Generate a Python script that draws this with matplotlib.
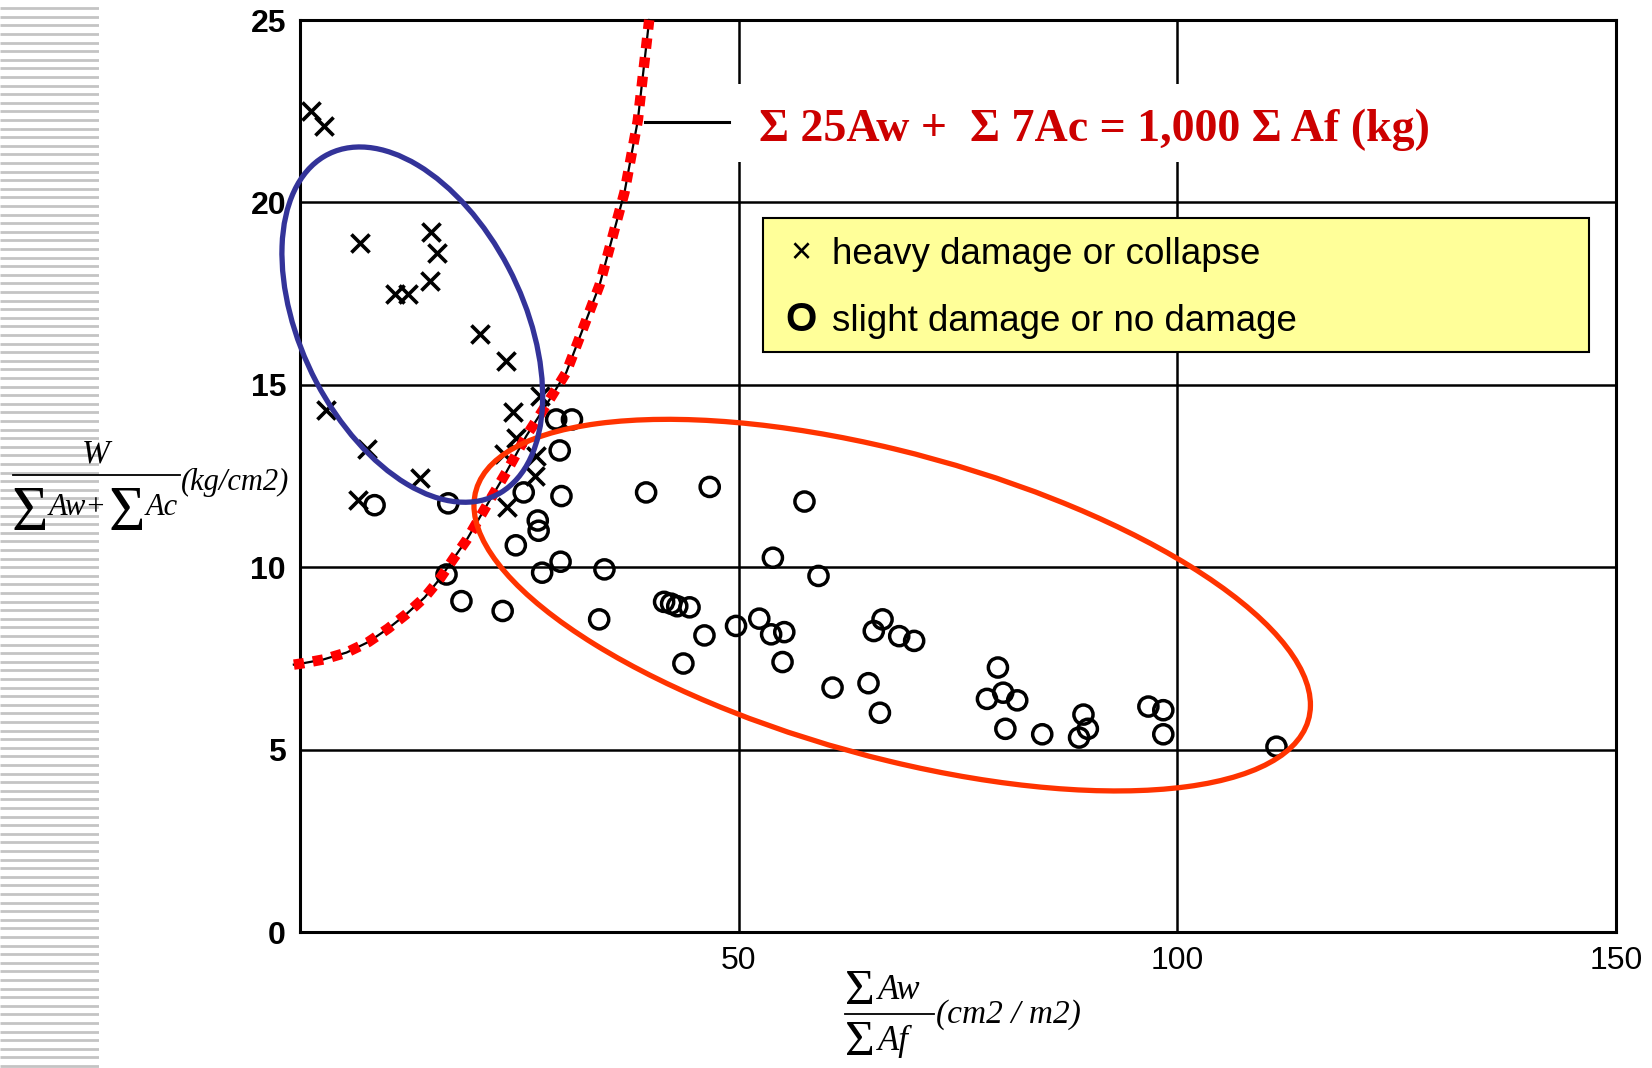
import matplotlib.pyplot as plt
from matplotlib.patches import Ellipse, Rectangle
from matplotlib.lines import Line2D
import numpy as np

# heavy damage or collapse (x markers)
heavy_x = [1.3, 2.7, 6.8, 14.9, 15.6, 10.8, 12.3, 14.8, 20.5, 23.5, 3.0, 7.6,
           13.7, 6.6, 24.3, 27.3, 24.6, 23.3, 26.9, 26.8, 23.6]
heavy_y = [22.5, 22.1, 18.9, 19.2, 18.6, 17.5, 17.5, 17.85, 16.4, 15.65, 14.3, 13.25,
           12.45, 11.85, 14.25, 14.7, 13.55, 13.1, 13.05, 12.5, 11.65]

# slight damage or no damage (o markers)
slight_x = [8.5, 16.9, 29.2, 31.0, 29.6, 25.5, 29.8, 39.45, 46.7, 57.5, 53.9, 59.1,
            27.1, 27.2, 24.6, 16.7, 18.4, 23.1, 27.6, 29.7, 34.7, 34.1, 41.5, 42.3,
            43.0, 44.4, 46.1, 43.7, 49.7, 52.35, 53.7, 55.2, 55.0, 60.7, 64.8, 66.1,
            66.4, 65.4, 68.3, 70.0, 79.55, 78.3, 80.15, 81.75, 80.4, 84.6, 89.3, 89.8,
            88.8, 96.7, 98.4, 98.4, 111.3]
slight_y = [11.7, 11.75, 14.05, 14.05, 13.2, 12.05, 11.95, 12.05, 12.2, 11.8, 10.26, 9.76,
            11.28, 11.0, 10.6, 9.8, 9.07, 8.8, 9.85, 10.15, 9.94, 8.57, 9.05, 9.0,
            8.93, 8.9, 8.13, 7.36, 8.39, 8.59, 8.16, 8.22, 7.4, 6.7, 6.82, 6.01,
            8.57, 8.25, 8.11, 7.98, 7.25, 6.39, 6.56, 6.35, 5.57, 5.42, 5.96, 5.57,
            5.33, 6.18, 6.08, 5.42, 5.08]

# boundary curve: sum 25Aw + sum 7Ac = 1000 sum Af
curve_x = [-0.7, 0.2, 2.65, 5.3, 7.8, 10.05, 12.1, 14.2, 15.9, 17.45, 19.0, 21.25,
           23.5, 25.8, 28.2, 30.35, 32.24, 34.14, 36.99, 38.5, 39.8]
curve_y = [7.33, 7.36, 7.47, 7.66, 7.95, 8.32, 8.71, 9.17, 9.67, 10.22, 10.75, 11.68,
           12.6, 13.6, 14.5, 15.34, 16.53, 17.73, 20.28, 22.24, 25.0]

x_ticks = [50, 100, 150]
y_ticks = [0, 5, 10, 15, 20, 25]

W, H = 1652, 1068
fig = plt.figure(figsize=(W / 100, H / 100), dpi=100)


def ftext(x, y, s, **kw):
    # place text by pixel position (from top-left) of the figure
    return fig.text(x / W, 1 - y / H, s, **kw)


def fline(x0, x1, y, lw=1.3):
    fig.add_artist(Line2D([x0 / W, x1 / W], [1 - y / H, 1 - y / H], color='black', lw=lw))


# striped slide margin on the left
ax_s = fig.add_axes([0, 0, 99 / W, 1])
ax_s.set_xlim(0, 1)
ax_s.set_ylim(0, H)
ax_s.axis('off')
ax_s.hlines(np.arange(2, H, 8.6), 0, 1, color='#c4c4c4', lw=2.0)
ax_s.add_patch(Rectangle((8 / 99, H - 533), 1, 105, facecolor='white', edgecolor='none'))

ax = fig.add_axes([300 / W, 1 - 932 / H, 1316 / W, 912 / H])
ax.set_xlim(0, 150)
ax.set_ylim(0, 25)
ax.set_xticks(x_ticks)
ax.set_yticks(y_ticks)
ax.grid(True, color='black', lw=1.8)
ax.set_axisbelow(True)
for s in ax.spines.values():
    s.set_linewidth(2.2)
    s.set_color('black')
ax.tick_params(length=0, labelsize=23, pad=10)
for lab in ax.get_xticklabels():
    lab.set_family('Liberation Sans')
for lab in ax.get_yticklabels():
    lab.set_family('Liberation Sans')
    lab.set_fontweight('bold')

ax.scatter(slight_x, slight_y, s=190, marker='o', facecolors='none',
           edgecolors='black', linewidths=2.5, zorder=3)
ax.scatter(heavy_x, heavy_y, s=170, marker='x', color='black', linewidths=2.6, zorder=3)

# boundary curve: thin black line with red square dots on top
ax.plot(curve_x, curve_y, color='black', lw=1.6, zorder=4, clip_on=False)
ax.plot(curve_x, curve_y, color='#ff0000', lw=7.5, linestyle=(0, (1, 0.85)),
        dash_capstyle='butt', zorder=5, clip_on=False)

# leader line and equation label
ax.plot([39.3, 48.9], [22.2, 22.2], color='black', lw=2.2, zorder=2)
ax.add_patch(Rectangle((48.9, 21.1), 82, 2.15, facecolor='white', edgecolor='none', zorder=1))
ax.text(52.35, 21.68, 'Σ 25Aw +  Σ 7Ac = 1,000 Σ Af (kg)', color='#cc0000',
        fontsize=33, fontweight='bold', family='Liberation Serif',
        ha='left', va='baseline', zorder=6)

# highlight ellipses
ax.add_patch(Ellipse((67.5, 8.96), 95.5, 8.58, angle=-3.31, fill=False,
                     edgecolor='#ff3300', lw=3.8, zorder=6, clip_on=False))
ax.add_patch(Ellipse((12.8, 16.65), 30.0, 8.83, angle=-8.24, fill=False,
                     edgecolor='#333399', lw=3.8, zorder=7, clip_on=False))

# legend box
ax.add_patch(Rectangle((0.352, 0.6356), 0.6275, 0.1471, transform=ax.transAxes,
                       facecolor='#ffff99', edgecolor='black', lw=1.5, zorder=8))
leg_font = ['Liberation Sans', 'DejaVu Sans']
ax.text(0.3804, 0.744, '×', transform=ax.transAxes, fontsize=26, ha='center',
        va='center', family=leg_font, zorder=9)
ax.text(0.3804, 0.6586, 'O', transform=ax.transAxes, fontsize=29, ha='center',
        va='baseline', family=leg_font, fontweight='bold', zorder=9)
ax.text(0.404, 0.732, 'heavy damage or collapse', transform=ax.transAxes,
        fontsize=26.5, ha='left', va='baseline', family=leg_font, zorder=9)
ax.text(0.404, 0.6586, 'slight damage or no damage', transform=ax.transAxes,
        fontsize=26.5, ha='left', va='baseline', family=leg_font, zorder=9)

# y axis label: W / (sum Aw + sum Ac) (kg/cm2)
serif = 'Liberation Serif'
ftext(96, 462, 'W', fontsize=24, style='italic', family=serif, ha='center', va='baseline')
fline(13, 180, 475)
ftext(12, 530, 'Σ', fontsize=45, family=serif, ha='left', va='baseline')
ftext(49, 515, 'Aw+', fontsize=22, style='italic', family=serif, ha='left', va='baseline')
ftext(109, 530, 'Σ', fontsize=45, family=serif, ha='left', va='baseline')
ftext(146, 515, 'Ac', fontsize=22, style='italic', family=serif, ha='left', va='baseline')
ftext(181, 490, '(kg/cm2)', fontsize=22, style='italic', family=serif, ha='left', va='baseline')

# x axis label: sum Aw / sum Af (cm2/m2)
ftext(845, 1004, 'Σ', fontsize=37, family=serif, ha='left', va='baseline')
ftext(878, 999, 'Aw', fontsize=25, style='italic', family=serif, ha='left', va='baseline')
fline(845, 934, 1014)
ftext(845, 1055, 'Σ', fontsize=37, family=serif, ha='left', va='baseline')
ftext(878, 1050, 'Af', fontsize=25, style='italic', family=serif, ha='left', va='baseline')
ftext(936, 1023, '(cm2 / m2)', fontsize=24, style='italic', family=serif, ha='left', va='baseline')

fig.savefig('out.png', dpi=100)
